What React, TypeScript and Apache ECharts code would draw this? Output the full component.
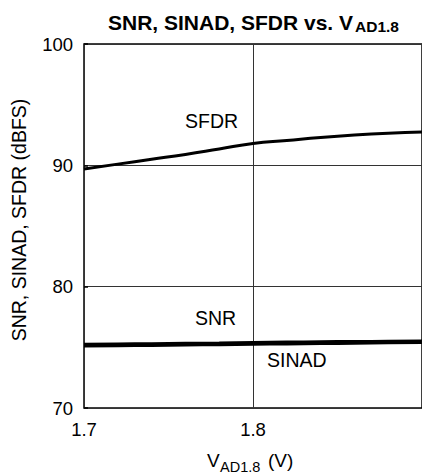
import React, { useEffect, useRef } from "react";
import * as echarts from "echarts";

const xValues = [1.7, 1.72, 1.74, 1.76, 1.78, 1.8, 1.82, 1.84, 1.86, 1.88, 1.9];
const sfdr = [89.7, 90.1, 90.5, 90.9, 91.35, 91.8, 92.05, 92.3, 92.5, 92.65, 92.75];
const snr = [75.25, 75.28, 75.3, 75.33, 75.36, 75.4, 75.43, 75.46, 75.48, 75.5, 75.52];
const sinad = [75.1, 75.13, 75.16, 75.19, 75.22, 75.25, 75.28, 75.31, 75.34, 75.37, 75.4];
const xTickLabels = ["1.7", "1.8"];

const FONT = "Liberation Sans, Arial, sans-serif";

export default function App() {
  const ref = useRef<HTMLDivElement>(null);
  useEffect(() => {
    const chart = echarts.init(ref.current!, null, { renderer: "svg" });
    const mk = (v: number[]) => xValues.map((x, i) => [x, v[i]]);
    const txt = (text: string, x: number, y: number, fontSize: number, extra: any = {}) => ({
      type: "text",
      x,
      y,
      ...(extra.rotation !== undefined ? { rotation: extra.rotation } : {}),
      style: {
        text,
        fontSize,
        fill: "#000",
        fontFamily: FONT,
        fontWeight: extra.bold ? "bold" : "normal",
        align: extra.align || "left",
        verticalAlign: "middle",
      },
    });
    chart.setOption({
      animation: false,
      backgroundColor: "#fff",
      textStyle: { fontFamily: FONT },
      grid: { left: 84, top: 44, width: 338, height: 364, outerBoundsMode: "none", containLabel: false, show: true, borderColor: "#000", borderWidth: 1.5, backgroundColor: "transparent" },
      xAxis: {
        type: "value",
        min: 1.7,
        max: 1.9,
        interval: 0.1,
        axisLine: { show: false },
        axisTick: { show: false },
        axisLabel: {
          color: "#000",
          fontSize: 18.5,
          fontFamily: FONT,
          margin: 12,
          formatter: (v: number) => {
            const s = v.toFixed(1);
            return xTickLabels.includes(s) ? s : "";
          },
        },
        splitLine: { show: true, lineStyle: { color: "#333", width: 1 } },
      },
      yAxis: {
        type: "value",
        min: 70,
        max: 100,
        interval: 10,
        axisLine: { show: false },
        axisTick: { show: true, inside: true, length: 4, lineStyle: { color: "#000", width: 1.5 } },
        axisLabel: { color: "#000", fontSize: 18.5, fontFamily: FONT, margin: 11 },
        splitLine: { show: true, lineStyle: { color: "#333", width: 1 } },
      },
      series: [
        { type: "line", data: mk(sfdr), smooth: true, symbol: "none", lineStyle: { color: "#000", width: 3 } },
        { type: "line", data: mk(snr), smooth: true, symbol: "none", lineStyle: { color: "#000", width: 3 } },
        { type: "line", data: mk(sinad), smooth: true, symbol: "none", lineStyle: { color: "#000", width: 3 } },
      ],
      graphic: [
        // title
        txt("SNR, SINAD, SFDR vs. V", 108, 22.2, 21, { bold: true }),
        txt("AD1.8", 355, 26.4, 15.5, { bold: true }),
        // axis names
        txt("SNR, SINAD, SFDR (dBFS)", 18.5, 220, 19.5, { rotation: Math.PI / 2, align: "center" }),
        txt("V", 207, 460.5, 19),
        txt("AD1.8", 220, 466.5, 14.5),
        txt("(V)", 268, 460.5, 19),
        // series labels
        txt("SFDR", 185, 121, 19.5),
        txt("SNR", 195, 318, 19.5),
        txt("SINAD", 267, 360, 19.5),
      ],
    });
    return () => chart.dispose();
  }, []);
  return <div ref={ref} style={{ position: "fixed", left: 0, top: 0, width: 422, height: 475 }} />;
}
